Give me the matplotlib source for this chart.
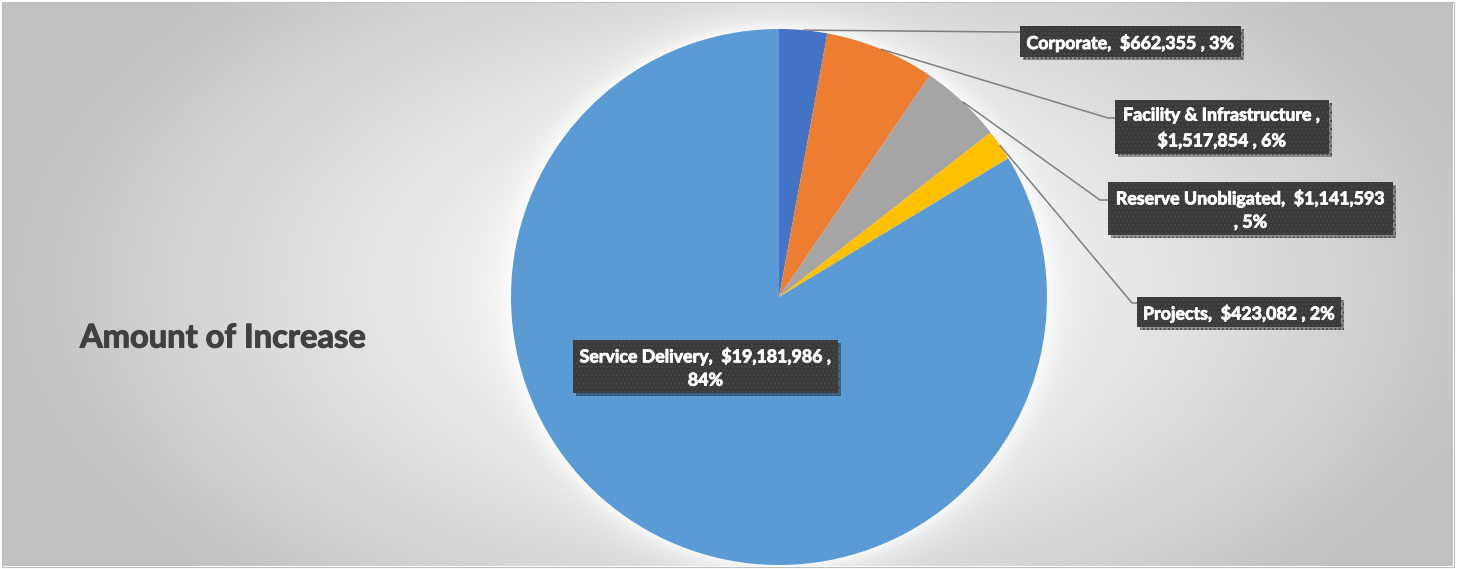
import numpy as np
import matplotlib
matplotlib.use('Agg')
import matplotlib.pyplot as plt
from matplotlib.patches import Rectangle
import matplotlib.patheffects as pe

# ---------------- data ----------------
categories = ['Corporate', 'Facility & Infrastructure', 'Reserve Unobligated',
              'Projects', 'Service Delivery']
amounts = [662355, 1517854, 1141593, 423082, 19181986]
percents = ['3%', '6%', '5%', '2%', '84%']
colors = ['#4472C4', '#ED7D31', '#A5A5A5', '#FFC000', '#5B9BD5']
title = 'Amount of Increase'

# label text pieces (as shown in the chart, with Excel-style separators)
label_texts = [
    f"{categories[0]},  ${amounts[0]:,} , {percents[0]}",
    f"{categories[1]} ,\n${amounts[1]:,} , {percents[1]}",
    f"{categories[2]},  ${amounts[2]:,}\n, {percents[2]}",
    f"{categories[3]},  ${amounts[3]:,} , {percents[3]}",
    f"{categories[4]},  ${amounts[4]:,} ,\n{percents[4]}",
]

# ---------------- layout ----------------
W, H = 1460, 569
FONT = ['Lato', 'DejaVu Sans']
CX, CY, R = 779, 297, 268

# label boxes (pixel coords: x0, y0, x1, y1)
boxes = [(1020, 26, 1241, 57), (1115, 100, 1329, 154), (1108, 182, 1393, 235),
         (1137, 297, 1341, 327), (573, 340, 838, 393)]
elbows = [(1012, 32), (1108, 118), (1100, 200), (1132, 303), None]

fig = plt.figure(figsize=(W / 100, H / 100), dpi=100)
fig.patch.set_facecolor('white')
ax = fig.add_axes([0, 0, 1, 1])

# ---------------- background gradient ----------------
yy, xx = np.mgrid[0:H, 0:W] + 0.5
rx = np.abs(xx - 760) / 760
ry = np.abs(yy - 285) / 430
rr = np.clip(np.sqrt(rx ** 2 + ry ** 2), 0, 1)
base = 255 - 62 * rr ** 1.3
# soft white glow around pie
d = np.sqrt((xx - CX) ** 2 + (yy - CY) ** 2)
glow = np.where(d > R, np.exp(-(d - R) / 14.0), 1.0)
val = base + (255 - base) * glow * 0.8
inside = (xx >= 2) & (xx <= 1453) & (yy >= 2) & (yy <= 566)
val = np.where(inside, val, 255)
img = np.dstack([val, val, val]) / 255.0
ax.imshow(img, extent=(0, W, H, 0), zorder=0, interpolation='bilinear')
ax.add_patch(Rectangle((1.5, 1.5), 1452, 565, fill=False, edgecolor='#bfbfbf',
                       lw=0.8, zorder=1))

# ---------------- pie ----------------
wedges, _ = ax.pie(amounts, colors=colors, startangle=-90, counterclock=True,
                   center=(CX, CY), radius=R, frame=True,
                   wedgeprops=dict(linewidth=0, zorder=2))

ax.set_xlim(0, W)
ax.set_ylim(H, 0)
ax.set_aspect('auto')
ax.axis('off')

# ---------------- leader lines ----------------
for w, box, el in zip(wedges, boxes, elbows):
    if el is None:
        continue
    tm = np.deg2rad((w.theta1 + w.theta2) / 2)
    sx = w.center[0] + w.r * np.cos(tm)
    sy = w.center[1] + w.r * np.sin(tm)
    ax.plot([sx, el[0], box[0]], [sy, el[1], el[1]], color='#7f7f7f', lw=1.1,
            zorder=3, solid_capstyle='butt')

# ---------------- label boxes ----------------
stroke = [pe.withStroke(linewidth=0.6, foreground='white')]
for txt, box in zip(label_texts, boxes):
    x0, y0, x1, y1 = box
    rect = Rectangle((x0, y0), x1 - x0, y1 - y0, facecolor='#3a3a3a',
                     edgecolor='#474747', hatch='....', lw=0, zorder=4)
    rect.set_path_effects([pe.withSimplePatchShadow(offset=(2.5, -2.5),
                                                    shadow_rgbFace='black',
                                                    alpha=0.35), pe.Normal()])
    ax.add_patch(rect)
    ax.text((x0 + x1) / 2, (y0 + y1) / 2 + 1, txt, ha='center', va='center',
            multialignment='center', color='white', fontsize=12.8,
            fontweight='bold', family=FONT, linespacing=1.45, zorder=5,
            path_effects=stroke)

# ---------------- title ----------------
ax.text(80, 338, title, ha='left', va='center', fontsize=23.5, fontweight='bold',
        color='#404040', family=FONT, zorder=5,
        path_effects=[pe.withStroke(linewidth=0.8, foreground='#404040')])

fig.savefig('out.png', dpi=100, facecolor='white')
